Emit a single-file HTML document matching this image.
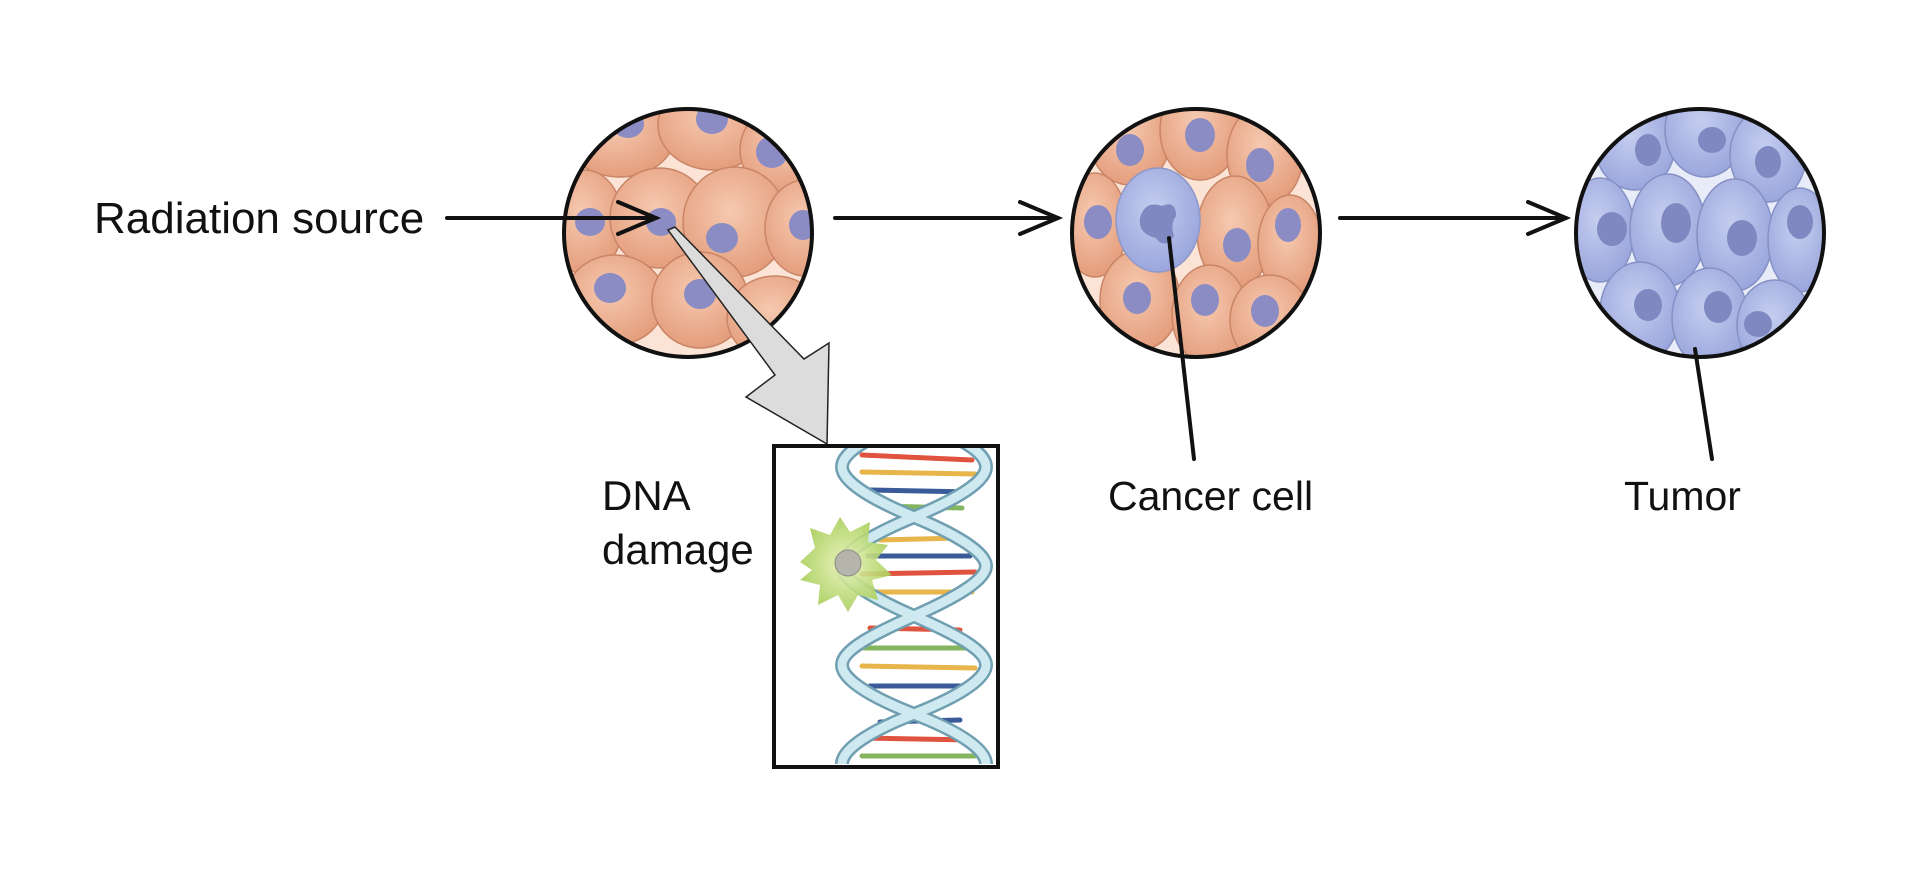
<!DOCTYPE html>
<html><head><meta charset="utf-8"><style>
html,body{margin:0;padding:0;background:#fff;width:1920px;height:878px;overflow:hidden}
text{font-family:"Liberation Sans",sans-serif;fill:#111}
</style></head><body>
<svg width="1920" height="878" viewBox="0 0 1920 878" xmlns="http://www.w3.org/2000/svg">
<defs>
<radialGradient id="pk" cx="45%" cy="40%" r="65%"><stop offset="0" stop-color="#f6c9b0"/><stop offset="1" stop-color="#e29a78"/></radialGradient>
<radialGradient id="bl" cx="45%" cy="40%" r="65%"><stop offset="0" stop-color="#c5cdef"/><stop offset="1" stop-color="#97a3db"/></radialGradient>
<radialGradient id="gl" cx="50%" cy="50%" r="50%"><stop offset="0" stop-color="#e7f2b8"/><stop offset="1" stop-color="#a9cf5a"/></radialGradient>
<clipPath id="c1"><circle cx="688" cy="233" r="124"/></clipPath>
<clipPath id="c2"><circle cx="1196" cy="233" r="124"/></clipPath>
<clipPath id="c3"><circle cx="1700" cy="233" r="124"/></clipPath>
<clipPath id="bx"><rect x="776" y="448" width="220" height="317"/></clipPath>
</defs>

<!-- circle 1 -->
<g clip-path="url(#c1)">
<rect x="560" y="100" width="260" height="270" fill="#fbe3d6"/>
<g stroke="#c98565" stroke-width="1.5" fill="url(#pk)">
<ellipse cx="620" cy="135" rx="55" ry="42"/><ellipse cx="713" cy="125" rx="55" ry="45"/><ellipse cx="785" cy="150" rx="45" ry="45"/>
<ellipse cx="585" cy="222" rx="38" ry="52"/><ellipse cx="660" cy="218" rx="50" ry="50"/><ellipse cx="735" cy="222" rx="52" ry="55"/><ellipse cx="805" cy="228" rx="40" ry="48"/>
<ellipse cx="615" cy="300" rx="50" ry="45"/><ellipse cx="700" cy="300" rx="48" ry="48"/><ellipse cx="775" cy="318" rx="48" ry="42"/>
</g>
<g fill="#8b8cc3"><ellipse cx="628" cy="124" rx="16" ry="14"/><ellipse cx="712" cy="119" rx="16" ry="15"/><ellipse cx="772" cy="152" rx="16" ry="16"/>
<ellipse cx="590" cy="222" rx="15" ry="14"/><ellipse cx="661" cy="222" rx="15" ry="14"/><ellipse cx="722" cy="238" rx="16" ry="15"/><ellipse cx="803" cy="225" rx="14" ry="15"/>
<ellipse cx="610" cy="288" rx="16" ry="15"/><ellipse cx="700" cy="294" rx="16" ry="15"/></g>
</g>
<circle cx="688" cy="233" r="124" fill="none" stroke="#111" stroke-width="4"/>

<!-- circle 2 -->
<g clip-path="url(#c2)">
<rect x="1070" y="100" width="260" height="270" fill="#fbe3d6"/>
<g stroke="#c98565" stroke-width="1.5" fill="url(#pk)">
<ellipse cx="1130" cy="140" rx="40" ry="45"/><ellipse cx="1200" cy="130" rx="40" ry="50"/><ellipse cx="1265" cy="155" rx="38" ry="50"/>
<ellipse cx="1095" cy="225" rx="32" ry="52"/><ellipse cx="1235" cy="232" rx="38" ry="56"/><ellipse cx="1290" cy="245" rx="32" ry="50"/>
<ellipse cx="1140" cy="300" rx="40" ry="50"/><ellipse cx="1210" cy="315" rx="38" ry="50"/><ellipse cx="1270" cy="320" rx="40" ry="45"/>
</g>
<ellipse cx="1158" cy="220" rx="42" ry="52" fill="url(#bl)" stroke="#8e98c9" stroke-width="1.5"/>
<path d="M1140 218 q5 -18 22 -12 q14 -6 14 10 q-6 8 -2 20 q-10 14 -18 2 q-18 -4 -16 -20z" fill="#7f88c0"/>
<g fill="#8b8cc3"><ellipse cx="1130" cy="150" rx="14" ry="16"/><ellipse cx="1200" cy="135" rx="15" ry="17"/><ellipse cx="1260" cy="165" rx="14" ry="17"/>
<ellipse cx="1098" cy="222" rx="14" ry="17"/><ellipse cx="1237" cy="245" rx="14" ry="17"/><ellipse cx="1288" cy="225" rx="13" ry="17"/>
<ellipse cx="1137" cy="298" rx="14" ry="16"/><ellipse cx="1205" cy="300" rx="14" ry="16"/><ellipse cx="1265" cy="311" rx="14" ry="16"/></g>
</g>
<circle cx="1196" cy="233" r="124" fill="none" stroke="#111" stroke-width="4"/>

<!-- circle 3 -->
<g clip-path="url(#c3)">
<rect x="1570" y="100" width="260" height="270" fill="#e8ecf9"/>
<g stroke="#8590c4" stroke-width="1.5" fill="url(#bl)">
<ellipse cx="1635" cy="145" rx="40" ry="45"/><ellipse cx="1705" cy="130" rx="40" ry="47"/><ellipse cx="1768" cy="155" rx="38" ry="47"/>
<ellipse cx="1600" cy="230" rx="34" ry="52"/><ellipse cx="1668" cy="230" rx="38" ry="56"/><ellipse cx="1735" cy="235" rx="38" ry="56"/><ellipse cx="1800" cy="240" rx="32" ry="52"/>
<ellipse cx="1640" cy="312" rx="40" ry="50"/><ellipse cx="1710" cy="318" rx="38" ry="50"/><ellipse cx="1775" cy="325" rx="38" ry="45"/>
</g>
<g fill="#7f88c0"><ellipse cx="1648" cy="150" rx="13" ry="16"/><ellipse cx="1712" cy="140" rx="14" ry="13"/><ellipse cx="1768" cy="162" rx="13" ry="16"/>
<ellipse cx="1612" cy="229" rx="15" ry="17"/><ellipse cx="1676" cy="223" rx="15" ry="20"/><ellipse cx="1742" cy="238" rx="15" ry="18"/><ellipse cx="1800" cy="222" rx="13" ry="17"/>
<ellipse cx="1648" cy="305" rx="14" ry="16"/><ellipse cx="1718" cy="307" rx="14" ry="16"/><ellipse cx="1758" cy="324" rx="14" ry="13"/></g>
</g>
<circle cx="1700" cy="233" r="124" fill="none" stroke="#111" stroke-width="4"/>

<!-- labels -->
<text x="94" y="233" font-size="44">Radiation source</text>
<text x="602" y="510" font-size="42">DNA</text>
<text x="602" y="564" font-size="42">damage</text>
<text x="1108" y="510" font-size="41">Cancer cell</text>
<text x="1624" y="510" font-size="41">Tumor</text>

<!-- arrows -->
<g stroke="#111" stroke-width="4" fill="none" stroke-linecap="round">
<line x1="447" y1="218" x2="656" y2="218"/><polyline points="618,202 656,218 618,234"/>
<line x1="835" y1="218" x2="1058" y2="218"/><polyline points="1020,202 1058,218 1020,234"/>
<line x1="1340" y1="218" x2="1566" y2="218"/><polyline points="1528,202 1566,218 1528,234"/>
<line x1="1169" y1="238" x2="1194" y2="459"/>
<line x1="1695" y1="349" x2="1712" y2="459"/>
</g>

<!-- grey big arrow -->
<path d="M668 230 L675 227 L804 359 L829 343 L827 444 L746 397 L775 375 Z" fill="#dcdcdc" stroke="#222" stroke-width="1.5"/>

<!-- DNA box -->
<rect x="774" y="446" width="224" height="321" fill="#fff" stroke="#111" stroke-width="4"/>
<g clip-path="url(#bx)">
<g stroke-width="5" stroke-linecap="round">
<line x1="862" y1="455" x2="972" y2="460" stroke="#e0533f"/><line x1="862" y1="472" x2="975" y2="474" stroke="#e8b54a"/>
<line x1="870" y1="490" x2="972" y2="492" stroke="#3a5a9a"/><line x1="880" y1="506" x2="962" y2="508" stroke="#84b55e"/>
<line x1="880" y1="540" x2="960" y2="538" stroke="#e8b54a"/><line x1="868" y1="556" x2="970" y2="556" stroke="#3a5a9a"/>
<line x1="862" y1="574" x2="975" y2="572" stroke="#e0533f"/><line x1="862" y1="592" x2="972" y2="592" stroke="#e8b54a"/>
<line x1="870" y1="628" x2="960" y2="630" stroke="#e0533f"/><line x1="864" y1="648" x2="972" y2="648" stroke="#84b55e"/>
<line x1="862" y1="666" x2="975" y2="668" stroke="#e8b54a"/><line x1="870" y1="686" x2="965" y2="686" stroke="#3a5a9a"/>
<line x1="880" y1="722" x2="960" y2="720" stroke="#3a5a9a"/><line x1="864" y1="738" x2="972" y2="740" stroke="#e0533f"/>
<line x1="862" y1="756" x2="975" y2="756" stroke="#84b55e"/>
</g>
<g fill="none" stroke="#6f9fb0" stroke-width="14">
<path d="M914 418 C 960 438, 986 452, 986 467 C 986 482, 955 500, 914 517 C 873 534, 842 552, 842 566 C 842 580, 873 598, 914 616 C 955 634, 986 650, 986 665 C 986 680, 955 698, 914 714 C 873 730, 842 748, 842 764"/>
<path d="M914 418 C 868 438, 842 452, 842 467 C 842 482, 873 500, 914 517 C 955 534, 986 552, 986 566 C 986 580, 955 598, 914 616 C 873 634, 842 650, 842 665 C 842 680, 873 698, 914 714 C 955 730, 986 748, 986 764"/>
</g>
<g fill="none" stroke="#cfe9f0" stroke-width="9">
<path d="M914 418 C 960 438, 986 452, 986 467 C 986 482, 955 500, 914 517 C 873 534, 842 552, 842 566 C 842 580, 873 598, 914 616 C 955 634, 986 650, 986 665 C 986 680, 955 698, 914 714 C 873 730, 842 748, 842 764"/>
<path d="M914 418 C 868 438, 842 452, 842 467 C 842 482, 873 500, 914 517 C 955 534, 986 552, 986 566 C 986 580, 955 598, 914 616 C 873 634, 842 650, 842 665 C 842 680, 873 698, 914 714 C 955 730, 986 748, 986 764"/>
</g>
<polygon points="800,562 815,548 810,528 830,535 840,517 850,532 870,522 868,542 888,545 876,560 892,575 872,580 878,600 858,595 848,612 838,595 818,605 820,585 800,580 812,570" fill="url(#gl)" opacity="0.9"/>
<circle cx="848" cy="563" r="13" fill="#b5b5ab" stroke="#888" stroke-width="1"/>
</g>
</svg>
</body></html>
